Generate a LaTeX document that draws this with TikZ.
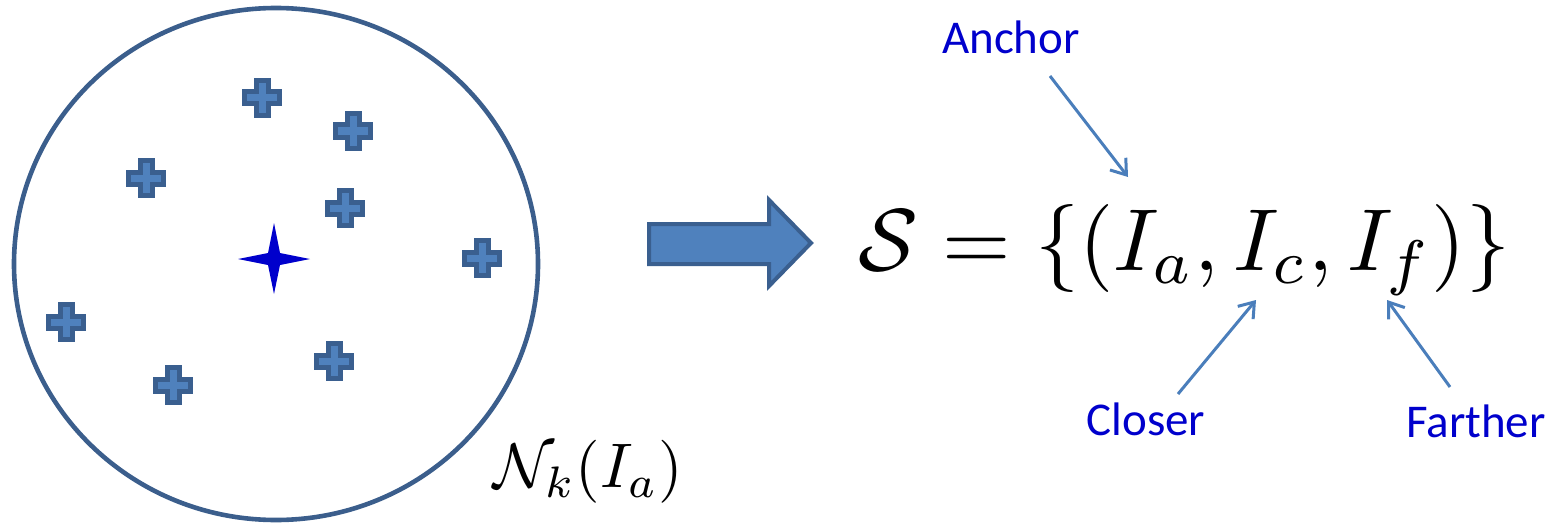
\documentclass[tikz,border=0pt]{standalone}
\usepackage{fontspec}
\newfontfamily\calibri{Carlito}
\usetikzlibrary{arrows.meta}
\definecolor{ringblue}{RGB}{59,94,140}
\definecolor{fillblue}{RGB}{79,129,189}
\definecolor{edgeblue}{RGB}{58,95,143}
\definecolor{starblue}{RGB}{0,0,204}
\definecolor{labelblue}{RGB}{0,0,204}
\definecolor{linkblue}{RGB}{74,126,187}
\tikzset{
  ring/.style={draw=ringblue, line width=2.3pt},
  plusmark/.pic={
    \path[draw=edgeblue, fill=fillblue, line width=2.5pt, line join=miter]
      (-6,-17.5) -- (6,-17.5) -- (6,-6) -- (17.5,-6) -- (17.5,6) -- (6,6) -- (6,17.5)
      -- (-6,17.5) -- (-6,6) -- (-17.5,6) -- (-17.5,-6) -- (-6,-6) -- cycle;
  },
  bigarrow/.style={draw=edgeblue, fill=fillblue, line width=2pt, line join=miter},
  lbl/.style={text=labelblue, font=\calibri\fontsize{23.5}{28}\selectfont, inner sep=0pt},
  mathlbl/.style={inner sep=0pt},
  link/.style={draw=linkblue, line width=1.5pt, -{Straight Barb[length=7pt,width=10pt,line width=1.5pt]}},
}
\begin{document}
\begin{tikzpicture}[x=0.5pt,y=-0.5pt]
\useasboundingbox (0,0) rectangle (1562,524);
% neighbourhood ellipse
\draw[ring] (276,264) ellipse [x radius=262, y radius=256];
% plus marks
\pic at (262,98) {plusmark};
\pic at (353,131) {plusmark};
\pic at (146,178) {plusmark};
\pic at (345,208) {plusmark};
\pic at (482,258) {plusmark};
\pic at (66,322) {plusmark};
\pic at (173,385) {plusmark};
\pic at (334,361) {plusmark};
% anchor star
\fill[starblue] (238,259) -- (268,253) -- (274,223) -- (280,253) -- (310,259)
  -- (280,265) -- (274,294) -- (268,265) -- cycle;
% big arrow
\path[bigarrow] (649,224) -- (769,224) -- (769,200) -- (811,243) -- (769,286)
  -- (769,264) -- (649,264) -- cycle;
% labels
\node[mathlbl] (nk) at (588,472) {\scalebox{3.15}{$\mathcal{N}_k(I_a)$}};
\node[mathlbl] (set) at (1184,250) {\scalebox{4.4}{$\mathcal{S}=\{(I_a,I_c,I_f)\}$}};
\node[lbl] (anchor) at (1011,37) {Anchor};
\node[lbl] (closer) at (1146,419) {Closer};
\node[lbl] (farther) at (1476,421) {Farther};
% connector ends
\coordinate (a0) at (1050,76);
\coordinate (a1) at (1128,177);
\coordinate (c0) at (1178,394);
\coordinate (c1) at (1256,300);
\coordinate (f0) at (1450,387);
\coordinate (f1) at (1387,300);
\draw[link] (a0) -- (a1);
\draw[link] (c0) -- (c1);
\draw[link] (f0) -- (f1);
\end{tikzpicture}
\end{document}
